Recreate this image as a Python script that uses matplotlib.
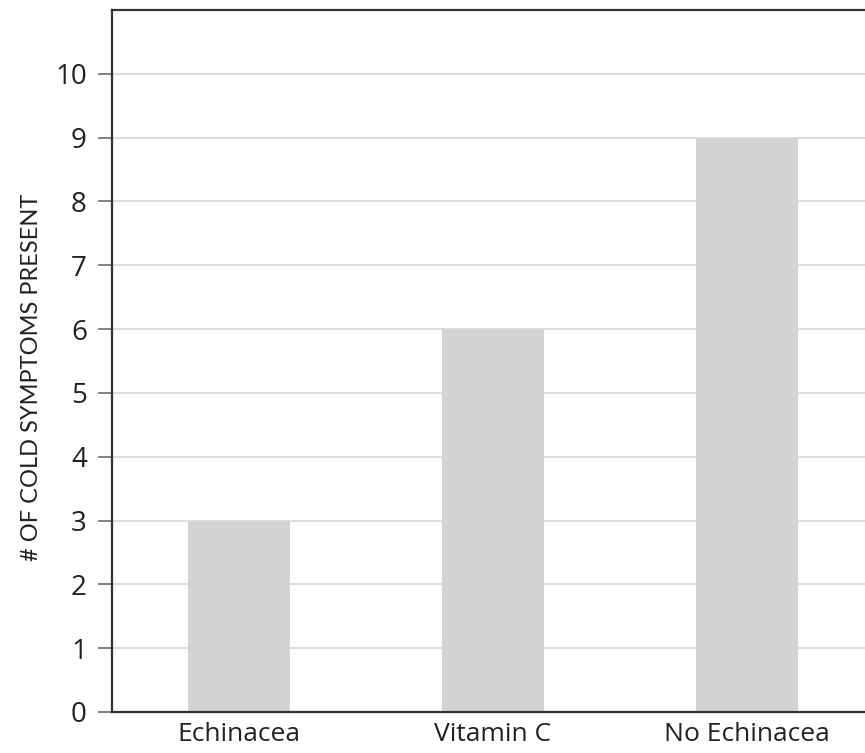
import numpy as np
import matplotlib.pyplot as plt

groups = ['Echinacea', 'Vitamin C', 'No Echinacea']
symptoms = [3, 6, 9]
yticks = list(range(0, 11))

plt.rcParams['font.family'] = ['Open Sans', 'DejaVu Sans']

fig = plt.figure(figsize=(8.65, 7.53), dpi=100)
ax = fig.add_axes([112/865, 41/753, 1 - 112/865, 702/753])

x = np.arange(len(groups))
ax.bar(x, symptoms, width=0.4, color='#d3d3d3', zorder=2)

ax.set_xlim(-0.5, 2.465)
ax.set_ylim(0, 11)
ax.set_yticks(yticks)
ax.set_xticks(x)
ax.set_xticklabels(groups, fontsize=19, color='#222222')
ax.tick_params(axis='x', length=0, pad=7)
ax.tick_params(axis='y', length=10, width=1.3, color='#777777', pad=8,
               labelsize=20, labelcolor='#222222')

ax.grid(axis='y', color='#dddddd', linewidth=1.5, zorder=0)
ax.set_axisbelow(True)

ax.spines['right'].set_visible(False)
for s in ['left', 'top', 'bottom']:
    ax.spines[s].set_linewidth(1.6)
    ax.spines[s].set_color('#333333')

ax.set_ylabel('# OF COLD SYMPTOMS PRESENT', fontsize=17, family=['Lato', 'DejaVu Sans'],
              color='#222222')
ax.yaxis.set_label_coords(-0.093, 0.477)

fig.savefig('out.png', dpi=100)
